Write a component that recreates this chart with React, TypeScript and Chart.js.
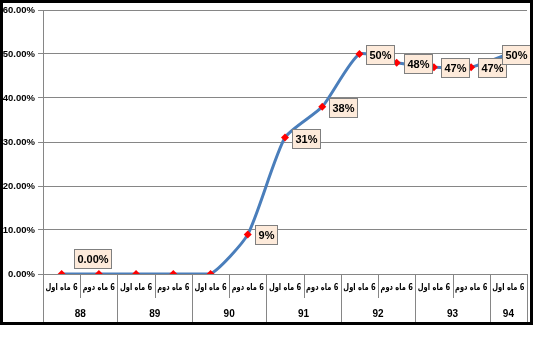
import React, { useEffect, useRef } from "react";
import { Chart, registerables } from "chart.js";

Chart.register(...registerables);

const halfLabels = [
  "6 ماه اول", "6 ماه دوم",
  "6 ماه اول", "6 ماه دوم",
  "6 ماه اول", "6 ماه دوم",
  "6 ماه اول", "6 ماه دوم",
  "6 ماه اول", "6 ماه دوم",
  "6 ماه اول", "6 ماه دوم",
  "6 ماه اول",
];
const years = ["88", "89", "90", "91", "92", "93", "94"];
const yearSizes = [2, 2, 2, 2, 2, 2, 1];
const values = [0, 0, 0, 0, 0, 0.09, 0.31, 0.38, 0.5, 0.48, 0.47, 0.47, 0.5];
const pointLabels = ["", "0.00%", "", "", "", "9%", "31%", "38%", "50%", "48%", "47%", "47%", "50%"];
const labelPlacement = ["", "above", "", "", "", "right", "right", "right", "right", "right", "right", "right", "right"];
const yTicks = [0, 0.1, 0.2, 0.3, 0.4, 0.5, 0.6];

const GRID = "#868686";

export default function App() {
  const ref = useRef<HTMLCanvasElement | null>(null);
  useEffect(() => {
    if (!ref.current) return;
    const catAxis = {
      id: "catAxis",
      afterDraw(chart: any) {
        const ctx = chart.ctx;
        const x = chart.scales.x;
        const area = chart.chartArea;
        const n = halfLabels.length;
        const w = (area.right - area.left) / n;
        const row1 = area.bottom + 24;
        const row2 = 323;
        ctx.save();
        ctx.strokeStyle = GRID;
        ctx.lineWidth = 1;
        const groupBounds = new Set<number>([0]);
        let acc = 0;
        yearSizes.forEach((s) => { acc += s; groupBounds.add(acc); });
        for (let k = 0; k <= n; k++) {
          const px = Math.round(area.left + k * w) + 0.5;
          ctx.beginPath();
          ctx.moveTo(px, area.bottom);
          ctx.lineTo(px, groupBounds.has(k) ? row2 : row1);
          ctx.stroke();
        }
        ctx.fillStyle = "#000";
        ctx.textAlign = "center";
        ctx.textBaseline = "middle";
        ctx.direction = "rtl";
        ctx.font = "bold 9px 'DejaVu Sans'";
        halfLabels.forEach((l, i) => {
          const cx = x.getPixelForValue(i);
          ctx.fillText(l, cx, area.bottom + 14, w - 5);
        });
        ctx.direction = "ltr";
        ctx.font = "bold 10px 'Liberation Sans'";
        let start = 0;
        years.forEach((y, gi) => {
          const s = yearSizes[gi];
          const cx = area.left + (start + s / 2) * w;
          ctx.fillText(y, cx, 314);
          start += s;
        });
        ctx.strokeStyle = "#000";
        ctx.lineWidth = 3;
        ctx.strokeRect(1.5, 1.5, 530, 322);
        ctx.restore();
      },
    };
    const dataLabels = {
      id: "dataLabels",
      afterDatasetsDraw(chart: any) {
        const ctx = chart.ctx;
        const meta = chart.getDatasetMeta(0);
        ctx.save();
        ctx.font = "bold 11px 'Liberation Sans'";
        ctx.textAlign = "center";
        ctx.textBaseline = "middle";
        meta.data.forEach((pt: any, i: number) => {
          const t = pointLabels[i];
          if (!t) return;
          const tw = ctx.measureText(t).width;
          const bw = Math.round(tw + 6);
          const bh = 19;
          let bx: number, by: number;
          if (labelPlacement[i] === "above") {
            bx = Math.round(pt.x - 6 - bw / 2);
            by = Math.round(pt.y - 6 - bh);
          } else {
            bx = Math.round(pt.x + 7);
            by = Math.round(pt.y - bh / 2 + 0.5);
          }
          if (bx + bw > 530) bx = 530 - bw;
          ctx.fillStyle = "#FDEADA";
          ctx.fillRect(bx, by, bw, bh);
          ctx.strokeStyle = "#7F7F7F";
          ctx.lineWidth = 1;
          ctx.strokeRect(bx + 0.5, by + 0.5, bw, bh);
          ctx.fillStyle = "#000";
          ctx.fillText(t, bx + bw / 2 + 0.5, by + bh / 2 + 1);
        });
        ctx.restore();
      },
    };
    const chart = new Chart(ref.current, {
      type: "line",
      data: {
        labels: halfLabels,
        datasets: [
          {
            data: values,
            borderColor: "#4A7EBB",
            borderWidth: 3,
            tension: 0.2,
            pointStyle: "rectRot",
            pointRadius: 4,
            pointBackgroundColor: "#FF0000",
            pointBorderColor: "#FF0000",
            pointBorderWidth: 0,
          },
        ],
      },
      options: {
        responsive: false,
        animation: false,
        layout: { padding: { left: 0, top: 10, right: 23, bottom: 86 } },
        plugins: { legend: { display: false }, tooltip: { enabled: false } },
        scales: {
          x: { type: "category", offset: true, display: false },
          y: {
            min: 0,
            max: 0.6,
            afterFit(scale: any) { scale.width = 43; },
            afterBuildTicks(scale: any) { scale.ticks = yTicks.map((v) => ({ value: v })); },
            ticks: {
              padding: 3,
              color: "#000",
              font: { family: "'Liberation Sans'", size: 9.5, weight: "bold" },
              callback: (v: any) => (Number(v) * 100).toFixed(2) + "%",
            },
            grid: { color: GRID, tickLength: 5, lineWidth: 1 },
            border: { color: GRID },
          },
        },
      },
      plugins: [catAxis, dataLabels],
    });
    return () => chart.destroy();
  }, []);
  return (
    <div style={{ position: "fixed", left: 0, top: 0, width: 550, height: 360, background: "#fff" }}>
      <canvas ref={ref} width={550} height={360} />
    </div>
  );
}
